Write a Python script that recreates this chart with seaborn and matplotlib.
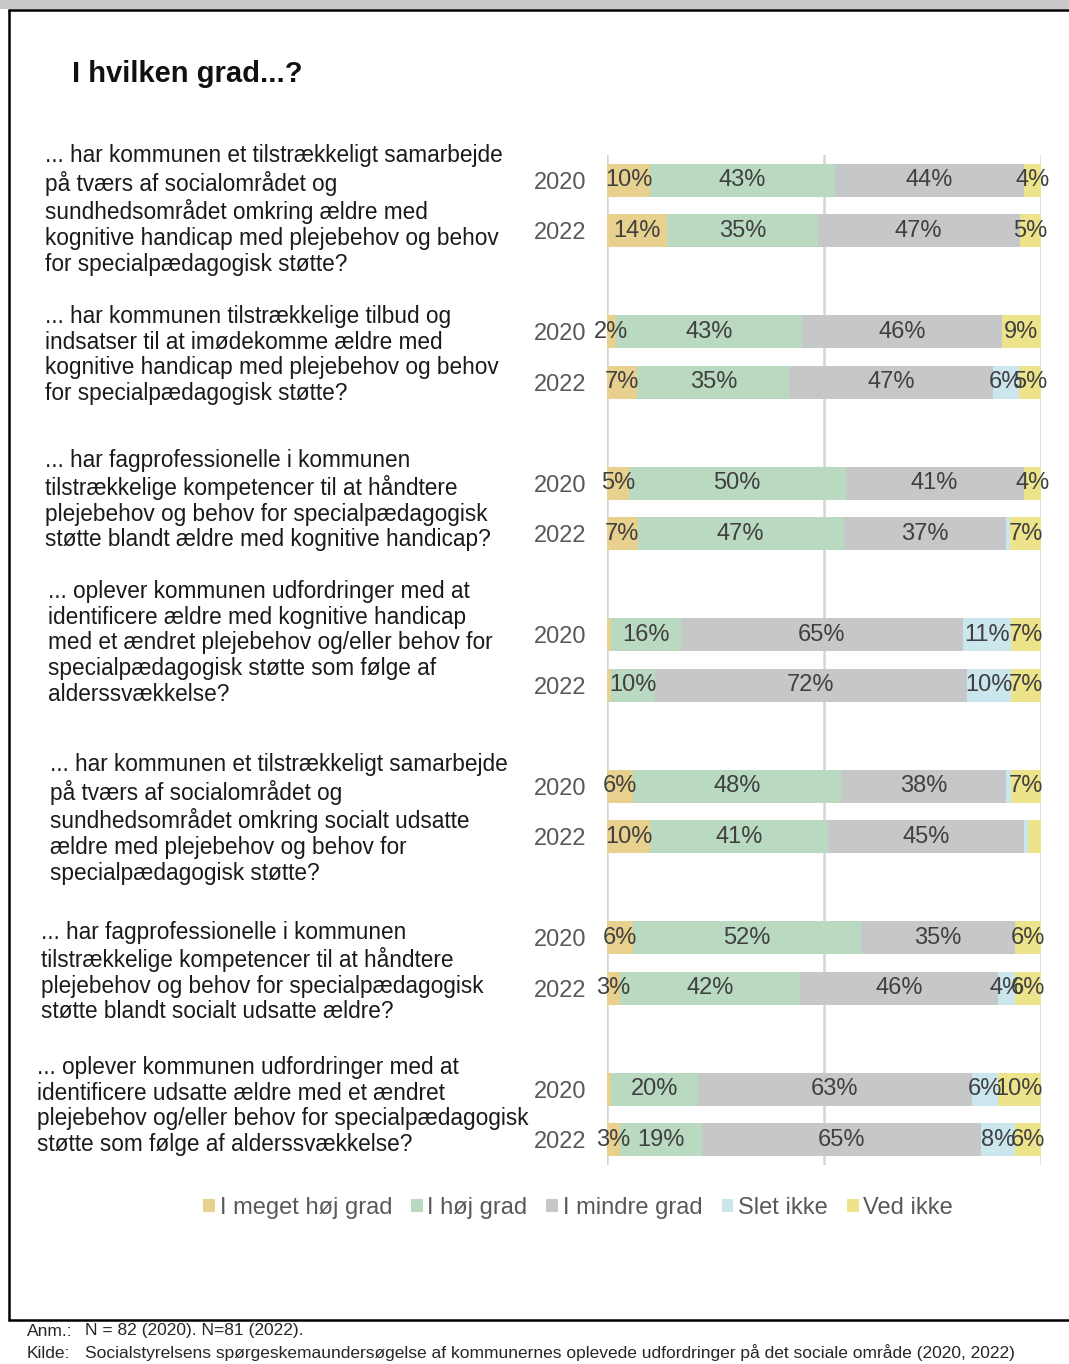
import numpy as np
import pandas as pd
import seaborn as sns
import matplotlib.pyplot as plt
from matplotlib.patches import Patch, Rectangle
from matplotlib.lines import Line2D

sns.set_theme(style="white")
plt.rcParams['font.family'] = ['Liberation Sans', 'DejaVu Sans']

W, H = 1069, 1364

questions = [
    "... har kommunen et tilstrækkeligt samarbejde\npå tværs af socialområdet og\nsundhedsområdet omkring ældre med\nkognitive handicap med plejebehov og behov\nfor specialpædagogisk støtte?",
    "... har kommunen tilstrækkelige tilbud og\nindsatser til at imødekomme ældre med\nkognitive handicap med plejebehov og behov\nfor specialpædagogisk støtte?",
    "... har fagprofessionelle i kommunen\ntilstrækkelige kompetencer til at håndtere\nplejebehov og behov for specialpædagogisk\nstøtte blandt ældre med kognitive handicap?",
    "... oplever kommunen udfordringer med at\nidentificere ældre med kognitive handicap\nmed et ændret plejebehov og/eller behov for\nspecialpædagogisk støtte som følge af\nalderssvækkelse?",
    "... har kommunen et tilstrækkeligt samarbejde\npå tværs af socialområdet og\nsundhedsområdet omkring socialt udsatte\nældre med plejebehov og behov for\nspecialpædagogisk støtte?",
    "... har fagprofessionelle i kommunen\ntilstrækkelige kompetencer til at håndtere\nplejebehov og behov for specialpædagogisk\nstøtte blandt socialt udsatte ældre?",
    "... oplever kommunen udfordringer med at\nidentificere udsatte ældre med et ændret\nplejebehov og/eller behov for specialpædagogisk\nstøtte som følge af alderssvækkelse?",
]
years = ["2020", "2022"]

categories = ["I meget høj grad", "I høj grad", "I mindre grad", "Slet ikke", "Ved ikke"]

# one value per bar: Q1 2020, Q1 2022, Q2 2020, ...
meget_hoj = [10, 14, 2, 7, 5, 7, 1, 1, 6, 10, 6, 3, 1, 3]
hoj = [43, 35, 43, 35, 50, 47, 16, 10, 48, 41, 52, 42, 20, 19]
mindre = [44, 47, 46, 47, 41, 37, 65, 72, 38, 45, 35, 46, 63, 65]
slet_ikke = [0, 0, 0, 6, 0, 1, 11, 10, 1, 1, 0, 4, 6, 8]
ved_ikke = [4, 5, 9, 5, 4, 7, 7, 7, 7, 3, 6, 6, 10, 6]

colors = ['#e8d18f', '#b9d9c0', '#c6c7c9', '#cce6ee', '#ede38a']

# labels that are not shown in the original (bar index, category index)
hidden = {(9, 4)}

vals = np.array([meget_hoj, hoj, mindre, slet_ikke, ved_ikke], dtype=float).T
shares = vals / vals.sum(axis=1, keepdims=True)
cum = shares.cumsum(axis=1)

n_q = len(questions)
pos = np.array([3 * q + j for q in range(n_q) for j in range(2)], dtype=float)
year_labels = [years[j] for q in range(n_q) for j in range(2)]

df = pd.DataFrame(cum, columns=categories)
df['pos'] = pos

fig = plt.figure(figsize=(W / 100, H / 100), dpi=100)
ax = fig.add_axes([607 / W, 1 - 1165 / H, 434 / W, 1010 / H])

# stacked bars: draw cumulative totals from the outermost segment inwards
for k in reversed(range(len(categories))):
    sns.barplot(data=df, x=categories[k], y='pos', orient='h', native_scale=True,
                color=colors[k], saturation=1, width=0.65, errorbar=None,
                linewidth=0, ax=ax, zorder=2)

for i in range(len(pos)):
    left = 0.0
    for k in range(len(categories)):
        w = shares[i, k]
        v = int(vals[i, k])
        if v >= 2 and (i, k) not in hidden:
            ax.text(left + w / 2, pos[i], f"{v}%", ha='center', va='center',
                    fontsize=17, color='#404040', zorder=3)
        left += w

ax.set_xlim(0, 1)
ax.set_ylim(pos.max() + 0.5, -0.5)
ax.set_xticks([0, 0.5, 1])
ax.set_xticklabels([])
ax.xaxis.grid(True, color='#d4d4d4', linewidth=1.8, zorder=0)
ax.set_axisbelow(True)
ax.set_yticks(pos)
ax.set_yticklabels(year_labels, fontsize=17, color='#595959')
ax.tick_params(axis='y', length=0, pad=15)
ax.tick_params(axis='x', length=0)
ax.set_xlabel('')
ax.set_ylabel('')
for s in ax.spines.values():
    s.set_visible(False)

# question labels
q_x = [45, 45, 45, 48, 50, 41, 37]
q_y = [210, 355, 500, 643, 819, 972, 1106]
for text, x, y in zip(questions, q_x, q_y):
    fig.text(x / W, 1 - y / H, text, ha='left', va='center', fontsize=16.3,
             color='#1a1a1a', linespacing=1.16)

fig.text(72 / W, 1 - 74 / H, "I hvilken grad...?", ha='left', va='center',
         fontsize=21, fontweight='bold', color='#111111')

handles = [Patch(facecolor=c, edgecolor='none', label=l) for c, l in zip(colors, categories)]
fig.legend(handles=handles, loc='center', bbox_to_anchor=(578 / W, 1 - 1208 / H),
           ncol=5, frameon=False, fontsize=17, handlelength=0.5, handleheight=0.5,
           handletextpad=0.2, columnspacing=0.8, labelcolor='#595959')

# frame
fig.add_artist(Rectangle((0, 1 - 9 / H), 1, 9 / H, transform=fig.transFigure,
                         facecolor='#c8c8c8', edgecolor='none'))
fig.add_artist(Line2D([9 / W, 1], [1 - 10 / H, 1 - 10 / H], color='black', linewidth=1.8))
fig.add_artist(Line2D([9 / W, 9 / W], [1 - 10 / H, 1 - 1320 / H], color='black', linewidth=1.8))
fig.add_artist(Line2D([9 / W, 1], [1 - 1320 / H, 1 - 1320 / H], color='black', linewidth=1.8))

note_font = ['Liberation Sans Narrow', 'Liberation Sans']
fig.text(27 / W, 1 - 1331 / H, "Anm.:", ha='left', va='center', fontsize=12.5, family=note_font)
fig.text(85 / W, 1 - 1331 / H, "N = 82 (2020). N=81 (2022).", ha='left', va='center',
         fontsize=12.5, family=note_font)
fig.text(27 / W, 1 - 1353 / H, "Kilde:", ha='left', va='center', fontsize=12.5, family=note_font)
fig.text(85 / W, 1 - 1353 / H,
         "Socialstyrelsens spørgeskemaundersøgelse af kommunernes oplevede udfordringer på det sociale område (2020, 2022)",
         ha='left', va='center', fontsize=12.5, family=note_font)

fig.savefig("out.png", dpi=100)
